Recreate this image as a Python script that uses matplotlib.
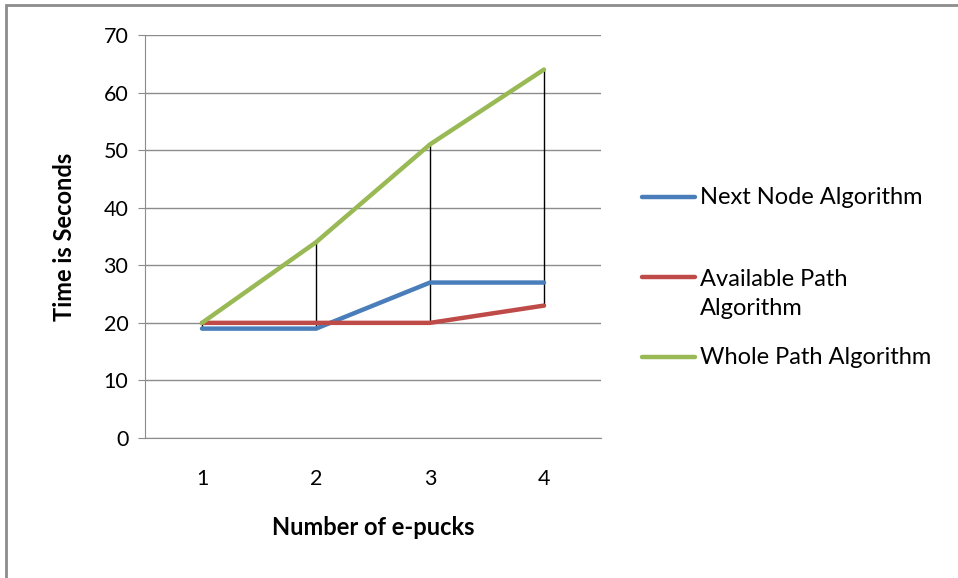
import matplotlib.pyplot as plt
from matplotlib.lines import Line2D
from matplotlib.patches import Rectangle

categories = ["1", "2", "3", "4"]
series_names = ["Next Node Algorithm", "Available Path\nAlgorithm", "Whole Path Algorithm"]
next_node = [19, 19, 27, 27]
available_path = [20, 20, 20, 23]
whole_path = [20, 34, 51, 64]
y_ticks = [0, 10, 20, 30, 40, 50, 60, 70]

colors = ["#4a7ebb", "#be4b48", "#98b954"]
W, H = 958, 578
plt.rcParams['font.family'] = ['Lato', 'DejaVu Sans']

fig = plt.figure(figsize=(W / 100, H / 100), dpi=100)
# axes box: x 145..601, y 35..438 (pixels)
ax = fig.add_axes([145 / W, 1 - 438 / H, (601 - 145) / W, (438 - 35) / H])

x = list(range(1, len(categories) + 1))
all_series = [next_node, available_path, whole_path]

# high-low lines
for i in range(len(x)):
    vals = [s[i] for s in all_series]
    ax.plot([x[i], x[i]], [min(vals), max(vals)], color="black", lw=1, zorder=2)

for s, c in zip(all_series, colors):
    ax.plot(x, s, color=c, lw=3.2, solid_capstyle="round", zorder=3)

ax.set_xlim(0.5, 4.5)
ax.set_ylim(0, 70)
ax.set_yticks(y_ticks)
ax.set_xticks(x)
ax.set_xticklabels(categories)
ax.grid(axis="y", color="#8c8c8c", lw=1)
ax.set_axisbelow(True)
for side in ["top", "right"]:
    ax.spines[side].set_visible(False)
ax.spines["left"].set_color("#8c8c8c")
ax.spines["bottom"].set_color("#8c8c8c")
ax.tick_params(axis="y", length=5, color="#8c8c8c", labelsize=15.5, pad=7)
ax.tick_params(axis="x", length=0, labelsize=15.5, pad=22)

ax.set_xlabel("Number of e-pucks", fontsize=17, fontweight="bold", labelpad=20)
ax.set_ylabel("Time is Seconds", fontsize=17, fontweight="bold", labelpad=20)

# legend drawn by hand to match the spreadsheet layout
leg_y = [197, 277, 357]
for name, c, yy in zip(series_names, colors, leg_y):
    fy = 1 - yy / H
    fig.add_artist(Line2D([642 / W, 695 / W], [fy, fy], color=c, lw=3.2,
                          solid_capstyle="round", transform=fig.transFigure))
    n_lines = name.count("\n")
    ty = fy - n_lines * 17 / H
    fig.text(700 / W, ty, name, fontsize=17, va="center", linespacing=1.5)

# outer frame
fig.add_artist(Rectangle((6 / W, -0.1), 1.2, 1 - 5 / H + 0.1, fill=False,
                         edgecolor="#8c8c8c", lw=2, transform=fig.transFigure))

fig.savefig("out.png", dpi=100)
